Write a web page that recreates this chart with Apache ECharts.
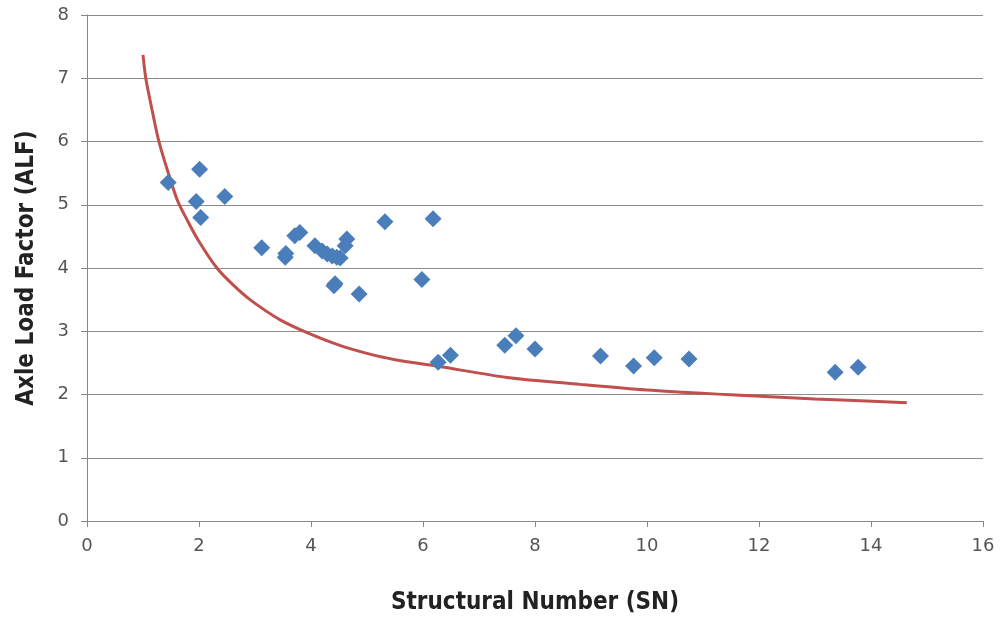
<!DOCTYPE html>
<html lang="en">
  <head>
    <meta charset="UTF-8" />
    <title>ALF vs SN</title>
    <style>
      body {
        margin: 0;
        overflow: hidden;
        background: #fff;
      }
    </style>
    <script src="https://cdn.jsdelivr.net/npm/echarts@6/dist/echarts.min.js"></script>
  </head>

  <body>
    <div id="chart" style="width: 1000px; height: 620px"></div>
    <script>
      // measured points (SN, ALF)
      var snValues = [
        1.45, 2.01, 1.95, 2.03, 2.46, 3.12, 3.54, 3.55, 3.71, 3.8, 4.07, 4.2,
        4.29, 4.38, 4.46, 4.52, 4.61, 4.64, 4.43, 4.41, 4.86, 5.32, 6.18, 5.98,
        6.27, 6.49, 7.46, 7.66, 8.0, 9.17, 9.76, 10.13, 10.75, 13.36, 13.77
      ];
      var alfValues = [
        5.35, 5.56, 5.05, 4.8, 5.13, 4.32, 4.17, 4.23, 4.51, 4.56, 4.35, 4.27,
        4.22, 4.19, 4.17, 4.16, 4.35, 4.46, 3.75, 3.72, 3.59, 4.73, 4.78, 3.82,
        2.51, 2.62, 2.78, 2.93, 2.72, 2.61, 2.45, 2.58, 2.56, 2.35, 2.43
      ];

      // fitted curve
      var curveX = [1.0, 1.05, 1.15, 1.27, 1.4, 1.61, 1.8, 2.0, 2.32, 2.6, 2.91, 3.45, 3.95, 4.5, 5.0, 5.5, 6.24, 7.5, 8.8, 10.0, 11.4, 13.0, 14.64];
      var curveY = [7.37, 7.0, 6.55, 6.05, 5.65, 5.08, 4.74, 4.42, 4.0, 3.74, 3.5, 3.18, 2.97, 2.78, 2.65, 2.55, 2.45, 2.27, 2.16, 2.07, 2.0, 1.93, 1.87];

      var xTicks = [0, 2, 4, 6, 8, 10, 12, 14, 16];
      var yTicks = [0, 1, 2, 3, 4, 5, 6, 7, 8];

      var scatterData = snValues.map(function (x, i) {
        return [x, alfValues[i]];
      });
      var curveData = curveX.map(function (x, i) {
        return [x, curveY[i]];
      });

      var labelFont = {
        fontFamily: "DejaVu Sans",
        fontSize: 18,
        color: "#555",
      };
      var titleFont = {
        fontFamily: "'DejaVu Sans Condensed', 'Liberation Sans Narrow', 'DejaVu Sans', sans-serif",
        fontWeight: "bold",
        fontSize: 24,
        color: "#222",
      };

      var option = {
        animation: false,
        backgroundColor: "#fff",
        grid: {
          left: 87,
          right: 17,
          top: 15,
          bottom: 97,
        },
        xAxis: {
          type: "value",
          min: xTicks[0],
          max: xTicks[xTicks.length - 1],
          interval: 2,
          name: "Structural Number (SN)",
          nameLocation: "middle",
          nameGap: 70,
          nameTextStyle: titleFont,
          axisLine: { lineStyle: { color: "#888", width: 1 } },
          axisTick: { show: true, length: 6, lineStyle: { color: "#888" } },
          axisLabel: Object.assign({ margin: 16 }, labelFont),
          splitLine: { show: false },
        },
        yAxis: {
          type: "value",
          min: yTicks[0],
          max: yTicks[yTicks.length - 1],
          interval: 1,
          name: "Axle Load Factor (ALF)",
          nameLocation: "middle",
          nameGap: 48,
          nameTextStyle: titleFont,
          axisLine: { show: true, lineStyle: { color: "#888", width: 1 } },
          axisTick: { show: true, length: 6, lineStyle: { color: "#888" } },
          axisLabel: Object.assign({ margin: 18 }, labelFont),
          splitLine: { show: true, lineStyle: { color: "#8c8c8c", width: 1 } },
        },
        series: [
          {
            name: "Power fit",
            type: "line",
            data: curveData,
            smooth: 0.3,
            showSymbol: false,
            lineStyle: { color: "#c0504d", width: 3 },
            z: 2,
          },
          {
            name: "ALF",
            type: "scatter",
            data: scatterData,
            symbol: "diamond",
            symbolSize: 17,
            itemStyle: { color: "#4a7ebb", opacity: 1 },
            z: 3,
          },
        ],
      };

      var myChart = echarts.init(document.getElementById("chart"));
      myChart.setOption(option);
    </script>
  </body>
</html>
